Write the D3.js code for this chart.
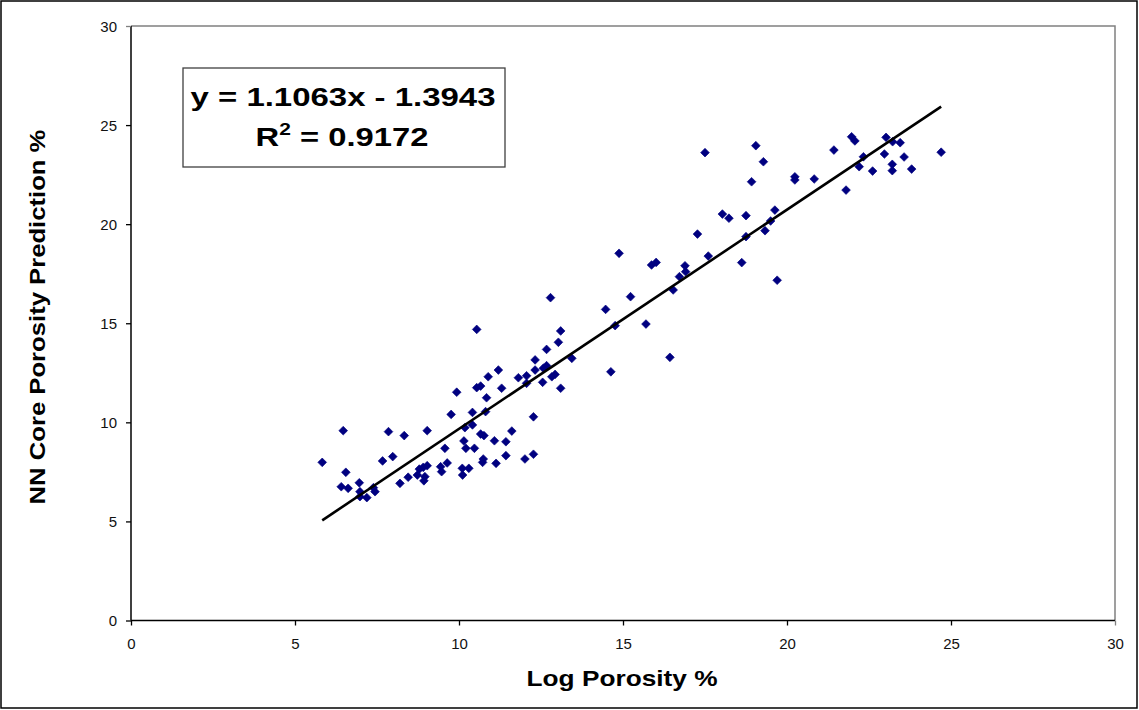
<!DOCTYPE html>
<html><head><meta charset="utf-8">
<script src="https://cdn.jsdelivr.net/npm/d3@7"></script>
<style>
html,body{margin:0;padding:0;background:#fff;}
svg text{font-family:"Liberation Sans",Arial,sans-serif;}
</style></head>
<body>
<svg id="c" width="1139" height="710"></svg>
<script>
// Data
const logPorosity = [10.54,11.20,10.89,11.81,10.54,10.66,11.30,9.93,10.84,9.76,10.41,10.81,10.18,10.41,6.47,7.85,8.33,9.03,10.66,10.76,11.61,11.08,11.43,10.15,9.57,10.21,10.47,5.83,7.67,7.98,9.64,9.44,9.47,10.10,10.30,10.11,10.74,10.72,11.13,11.43,6.55,6.41,6.62,6.96,6.98,7.39,7.44,7.19,6.98,8.20,8.45,8.79,8.91,9.03,8.73,8.96,8.93,
 13.10,13.03,12.67,12.32,13.44,12.67,12.57,12.32,12.06,12.06,12.55,12.83,12.93,13.10,14.76,15.70,16.43,14.63,12.27,12.27,12.01,
 17.50,18.03,18.23,17.27,14.88,17.60,15.87,16.01,16.89,16.91,16.72,16.53,15.23,12.79,14.47,
 19.05,19.28,18.92,20.24,20.24,20.83,21.43,21.97,22.07,22.33,21.80,22.20,22.61,23.02,23.22,23.45,22.97,23.57,23.21,23.21,23.80,24.70,18.75,19.63,19.50,18.75,19.33,18.62,19.70];
const nnPrediction = [14.69,12.64,12.30,12.25,11.75,11.83,11.72,11.52,11.24,10.40,10.50,10.54,9.73,9.87,9.58,9.53,9.33,9.58,9.41,9.33,9.56,9.07,9.02,9.06,8.69,8.69,8.69,7.98,8.05,8.27,7.95,7.76,7.51,7.68,7.68,7.34,8.15,7.98,7.93,8.32,7.48,6.75,6.67,6.95,6.50,6.70,6.50,6.20,6.25,6.92,7.23,7.64,7.73,7.81,7.34,7.26,7.05,
 14.61,14.04,13.68,13.15,13.23,12.86,12.73,12.64,12.35,11.97,12.02,12.30,12.42,11.72,14.88,14.96,13.28,12.55,10.28,8.39,8.15,
 23.61,20.51,20.30,19.50,18.53,18.39,17.94,18.07,17.90,17.60,17.35,16.68,16.34,16.29,15.70,
 23.96,23.15,22.14,22.39,22.23,22.28,23.74,24.41,24.20,23.40,21.72,22.90,22.68,24.38,24.16,24.11,23.54,23.39,23.02,22.70,22.78,23.63,20.43,20.71,20.16,19.37,19.67,18.06,17.17];
const xTicks = [0,5,10,15,20,25,30];
const yTicks = [0,5,10,15,20,25,30];
const slope = 1.1063, intercept = -1.3943;
const eqLine1 = "y = 1.1063x - 1.3943";
const eqLine2a = "R", eqLine2sup = "2", eqLine2b = " = 0.9172";
const xTitle = "Log Porosity %";
const yTitle = "NN Core Porosity Prediction %";

const svg = d3.select("#c");
const L = 131, R = 1115, T = 26, B = 620.5;
const x = d3.scaleLinear().domain([0,30]).range([L,R]);
const y = d3.scaleLinear().domain([0,30]).range([B,T]);

// outer frame
svg.append("rect").attr("x",1).attr("y",1).attr("width",1136).attr("height",707)
  .attr("fill","#fff").attr("stroke","#000").attr("stroke-width",1.5);

// plot border (top & right gray)
svg.append("path").attr("d",`M${L},${T}H${R}V${B}`).attr("fill","none").attr("stroke","#808080").attr("stroke-width",1.5);

// axes
const xAxis = d3.axisBottom(x).tickValues(xTicks).tickSize(5).tickFormat(d3.format("d"));
const gx = svg.append("g").attr("transform",`translate(0,${B})`).call(xAxis);
gx.select(".domain").attr("stroke","#000").attr("stroke-width",1.5).attr("d",`M${L},0H${R}`);
gx.selectAll(".tick line").attr("stroke","#000").attr("stroke-width",1.3);
gx.selectAll(".tick").filter(d=>d===30).select("line").attr("stroke","#808080");
gx.selectAll(".tick text").attr("font-size",15).attr("fill","#111").attr("y",0).attr("dy",null).attr("transform","translate(0,28)");

const yAxis = d3.axisLeft(y).tickValues(yTicks).tickSize(5).tickFormat(d3.format("d"));
const gy = svg.append("g").attr("transform",`translate(${L},0)`).call(yAxis);
gy.select(".domain").attr("stroke","#000").attr("stroke-width",1.5).attr("d",`M0,${B}V${T}`);
gy.selectAll(".tick line").attr("stroke","#000").attr("stroke-width",1.3);
gy.selectAll(".tick").filter(d=>d===30).select("line").attr("stroke","#808080");
gy.selectAll(".tick text").attr("font-size",15).attr("fill","#111").attr("x",-14).attr("dy","0.36em");

// points
const pts = logPorosity.map((v,i)=>[v,nnPrediction[i]]);
svg.append("g").selectAll("path").data(pts).join("path")
  .attr("d", d3.symbol().type(d3.symbolSquare).size(38))
  .attr("transform",d=>`translate(${x(d[0])},${y(d[1])}) rotate(45)`)
  .attr("fill","#000080").attr("stroke","#000080").attr("stroke-width",0.6);

// trendline
const xmin = d3.min(logPorosity), xmax = d3.max(logPorosity);
svg.append("line").attr("x1",x(xmin)).attr("y1",y(slope*xmin+intercept))
  .attr("x2",x(xmax)).attr("y2",y(slope*xmax+intercept))
  .attr("stroke","#000").attr("stroke-width",2.6);

// fit helper: scale text horizontally to target width
function fit(t, cx, by, w){
  const len = t.node().getComputedTextLength();
  const s = w/len;
  t.attr("text-anchor","middle").attr("transform",`translate(${cx},${by}) scale(${s},1)`);
}

// equation box
svg.append("rect").attr("x",183).attr("y",68).attr("width",322).attr("height",99)
  .attr("fill","#fff").attr("stroke","#404040").attr("stroke-width",1.3);
const t1 = svg.append("text").attr("font-size",25).attr("font-weight","bold").attr("fill","#000").text(eqLine1);
fit(t1, 343, 106, 305);
const t2 = svg.append("text").attr("font-size",25).attr("font-weight","bold").attr("fill","#000");
t2.append("tspan").text(eqLine2a);
t2.append("tspan").attr("font-size",16).attr("dy",-11).text(eqLine2sup);
t2.append("tspan").attr("dy",11).text(eqLine2b);
fit(t2, 342, 146, 173);

// axis titles
const tx = svg.append("text").attr("font-size",22).attr("font-weight","bold").attr("fill","#000").text(xTitle);
fit(tx, 622, 686, 191);
const ty = svg.append("text").attr("font-size",22).attr("font-weight","bold").attr("fill","#000").text(yTitle);
{
  const len = ty.node().getComputedTextLength();
  const s = 375/len;
  ty.attr("text-anchor","middle").attr("transform",`translate(45,317) rotate(-90) scale(${s},1)`);
}
</script>
</body></html>
